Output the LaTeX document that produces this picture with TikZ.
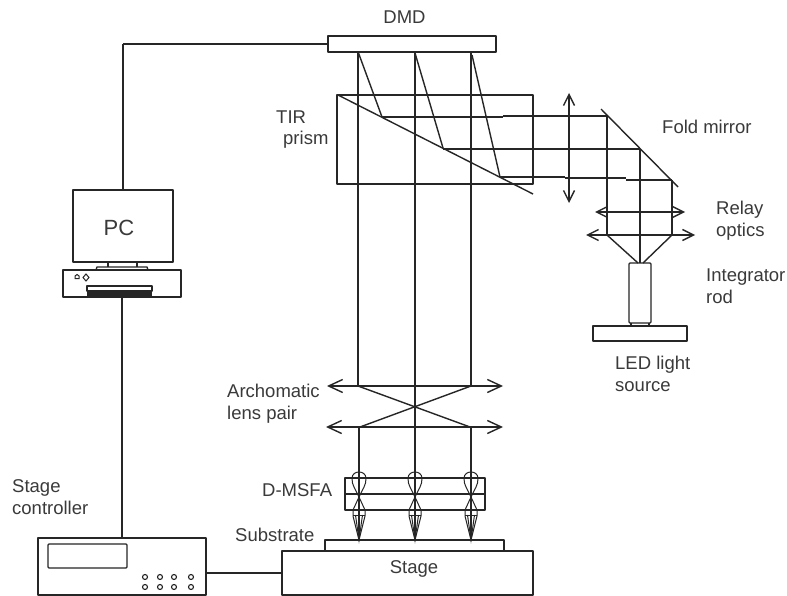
\documentclass[tikz,border=0pt]{standalone}
\usepackage{fontspec}
\setmainfont{Liberation Sans}
\usetikzlibrary{arrows.meta}
\definecolor{ink}{HTML}{262626}
\definecolor{txt}{HTML}{3A3A3A}
\tikzset{
  line/.style={draw=ink,line width=1.4pt,line join=round},
  thin line/.style={draw=ink,line width=1pt},
  box/.style={line,rectangle,inner sep=0pt,outer sep=0pt,anchor=north west},
  lens/.style={line,{Straight Barb[length=11pt,width=11pt]}-{Straight Barb[length=11pt,width=11pt]}},
  big lens/.style={line,{Straight Barb[length=14pt,width=13pt]}-{Straight Barb[length=14pt,width=13pt]}},
  lab/.style={text=txt,font=\fontsize{18.5}{22}\selectfont,inner sep=0pt,align=left},
  dot/.style={draw=ink,line width=1.1pt,circle,inner sep=0pt,minimum size=5pt}
}
\newcommand{\lenslet}[1]{%
  \begin{scope}[shift={(#1,0)}]
    \draw[thin line] (0,497) .. controls (-3,490) and (-7.5,485) .. (-7,478) .. controls (-6.5,470) and (6.5,470) .. (7,478) .. controls (7.5,485) and (3,490) .. (0,497);
    \draw[thin line] (0,497) -- (-6,510) -- (-6,516) -- (0,540) -- (6,516) -- (6,510) -- cycle;
    \draw[thin line] (-6,515) -- (6,515);
    \draw[thin line] (-3.5,515) -- (0,540) -- (3.5,515);
    \draw[line] (0,427) -- (0,540);
    \draw[line,line width=2.2pt] (0,490) -- (0,499) (0,531) -- (0,540);
  \end{scope}}
\begin{document}
\begin{tikzpicture}[x=1pt,y=-1pt]
\useasboundingbox[fill=white] (0,0) rectangle (787,596);
% main blocks
\node[box,minimum width=168,minimum height=16] (dmd) at (328,36) {};
\node[box,minimum width=196,minimum height=89] (prism) at (337,95) {};
\node[box,minimum width=100,minimum height=72] (monitor) at (73,190) {};
\node[box,minimum width=118,minimum height=27] (pcbox) at (63,270) {};
\node[box,minimum width=168,minimum height=57] (ctrl) at (38,538) {};
\node[box,minimum width=251,minimum height=44] (stage) at (282,551) {};
\node[box,minimum width=179,minimum height=11] (substrate) at (325,540) {};
\node[box,minimum width=94,minimum height=15] (source) at (593,326) {};
\node[box,minimum width=22,minimum height=60,rounded corners=1pt] (rod) at (629,263) {};
\node[box,minimum width=140,minimum height=32] (msfa) at (345,478) {};
\node[box,minimum width=79,minimum height=24,rounded corners=1pt] (display) at (48,544) {};
% wires
\coordinate (wirecorner) at (monitor.north |- dmd.west);
\draw[line] (monitor.north) -- (wirecorner);
\draw[line] (wirecorner) -- (dmd.west);
\draw[line] (pcbox.south) -- (ctrl.north);
\draw[line] (stage.west) -- (stage.west -| ctrl.east);
% PC details
\draw[line] (108,262) -- (108,267) (137,262) -- (137,267);
\draw[line] (96,270) -- (97,267) -- (147,267) -- (148,270);
\node[box,minimum width=65,minimum height=5] (slot) at (87,286) {};
\fill[ink] (87,291) rectangle (152,297);
\draw[thin line] (75,278.5) -- (75,276) -- (77,274.5) -- (79,276) -- (79,278.5) -- cycle;
\draw[thin line] (86,274) -- (89,277.5) -- (86,281) -- (83,277.5) -- cycle;
% controller buttons
\foreach \bx in {145,160,174,191}
  \foreach \by in {577,587}
    \node[dot] (b\bx\by) at (\bx,\by) {};
% MSFA middle
\draw[line] (msfa.west) -- (msfa.east);
% vertical rays
\draw[line] (358,52) -- (358,386);
\draw[line] (415,52) -- (415,427);
\draw[line] (471,52) -- (471,386);
% prism diagonal
\draw[line] (338,95) -- (533,194);
% reflected rays
\draw[line] (358.5,53) -- (382,117);
\draw[line] (382,117) -- (503,117);
\draw[line] (503,116) -- (607,116);
\draw[line] (607,116) -- (607,235);
\draw[line] (415,53) -- (443,148);
\draw[line] (443,149) -- (640,149);
\draw[line] (640,149) -- (640,263);
\draw[line] (472,55) -- (500,177);
\draw[line] (500,177) -- (565,177);
\draw[line] (565,178) -- (626,178);
\draw[line] (626,180) -- (672,180);
\draw[line] (672,180) -- (672,235);
% fold mirror
\draw[line] (601,109) -- (678,187);
% lenses
\draw[lens] (569,93) -- (569,203);
\draw[lens] (595,212) -- (685,212);
\draw[lens] (586,235) -- (695,235);
\draw[big lens] (327,386) -- (503,386);
\draw[big lens] (326,427) -- (503,427);
% integrator
\draw[line] (607,235) -- (638,263);
\draw[line] (672,235) -- (643,263);
\draw[line] (631,323) -- (631,326) (649,323) -- (649,326);
% crossing
\draw[line] (358,386) -- (470,427);
\draw[line] (471,386) -- (360,427);
% lenslets
\lenslet{359}
\lenslet{415}
\lenslet{471}
% labels
\node[lab,anchor=center] (tdmd) at (404.5,17) {DMD};
\node[lab,anchor=west] (ttir) at (276,117) {TIR};
\node[lab,anchor=west] (tprism) at (283,140) {prism};
\node[lab,anchor=west] (tfold) at (662,127) {Fold mirror};
\node[lab,anchor=west] (trelay) at (716,221) {Relay\\optics};
\node[lab,anchor=west] (trod) at (706,286.5) {Integrator\\rod};
\node[lab,anchor=west] (tled) at (615,374) {LED light\\source};
\node[lab,anchor=west] (tlens) at (227,404) {Archomatic\\lens pair};
\node[lab,anchor=west] (tmsfa) at (262,490) {D-MSFA};
\node[lab,anchor=west] (tctrl) at (12,497) {Stage\\controller};
\node[lab,anchor=west] (tsub) at (235,535) {Substrate};
\node[lab,anchor=center] (tstage) at (414,569) {Stage};
\node[lab,anchor=center,font=\fontsize{22}{26}\selectfont] (tpc) at (119,228) {PC};
\end{tikzpicture}
\end{document}
